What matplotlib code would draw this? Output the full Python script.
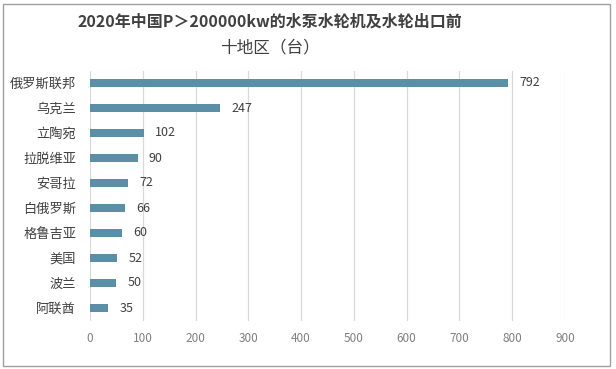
import matplotlib.pyplot as plt
from matplotlib.patches import Rectangle

plt.rcParams['font.family'] = ['Noto Sans CJK SC', 'DejaVu Sans']

# data
regions = ['俄罗斯联邦', '乌克兰', '立陶宛', '拉脱维亚', '安哥拉',
           '白俄罗斯', '格鲁吉亚', '美国', '波兰', '阿联酋']
values = [792, 247, 102, 90, 72, 66, 60, 52, 50, 35]
xticks = [0, 100, 200, 300, 400, 500, 600, 700, 800, 900]
title_1 = '2020年中国P＞200000kw的水泵水轮机及水轮出口前'
title_2 = '十地区（台）'

bar_color = '#5B8FA8'
text_color = '#404040'

fig = plt.figure(figsize=(6.16, 3.69), dpi=100)
ax = fig.add_axes([90/616, 1-320.5/369, (565-90)/616, 250/369])

ypos = list(range(len(regions)))[::-1]
ax.barh(ypos, values, height=0.33, color=bar_color, zorder=3)
for y, v in zip(ypos, values):
    ax.annotate(str(v), (v, y), xytext=(8, 0), textcoords='offset points',
                va='center', ha='left', fontsize=9, color=text_color)

ax.set_xlim(0, 900)
ax.set_ylim(-0.5, len(regions)-0.5)
ax.set_xticks(xticks)
ax.set_xticklabels([str(t) for t in xticks], fontsize=8.5, color='#808080')
ax.set_yticks(ypos)
ax.set_yticklabels(regions, fontsize=9.5, color=text_color)
ax.tick_params(axis='both', length=0)
ax.tick_params(axis='x', pad=8)
ax.tick_params(axis='y', pad=10)
ax.grid(axis='x', color='#D9D9D9', linewidth=0.9, zorder=0)
for s in ax.spines.values():
    s.set_visible(False)

# title is centred a bit left of the figure centre
fig.text(270/616, 1-22/369, title_1, ha='center', va='center', fontsize=11.5,
         fontweight='bold', color=text_color)
fig.text(270/616, 1-48/369, title_2, ha='center', va='center', fontsize=12,
         color=text_color)

# outer frame
fig.patches.append(Rectangle((3/616, 3/369), 607/616, 362/369,
                             transform=fig.transFigure, fill=False,
                             edgecolor='#A0A0A0', linewidth=1))

fig.savefig('out.png', dpi=100)
